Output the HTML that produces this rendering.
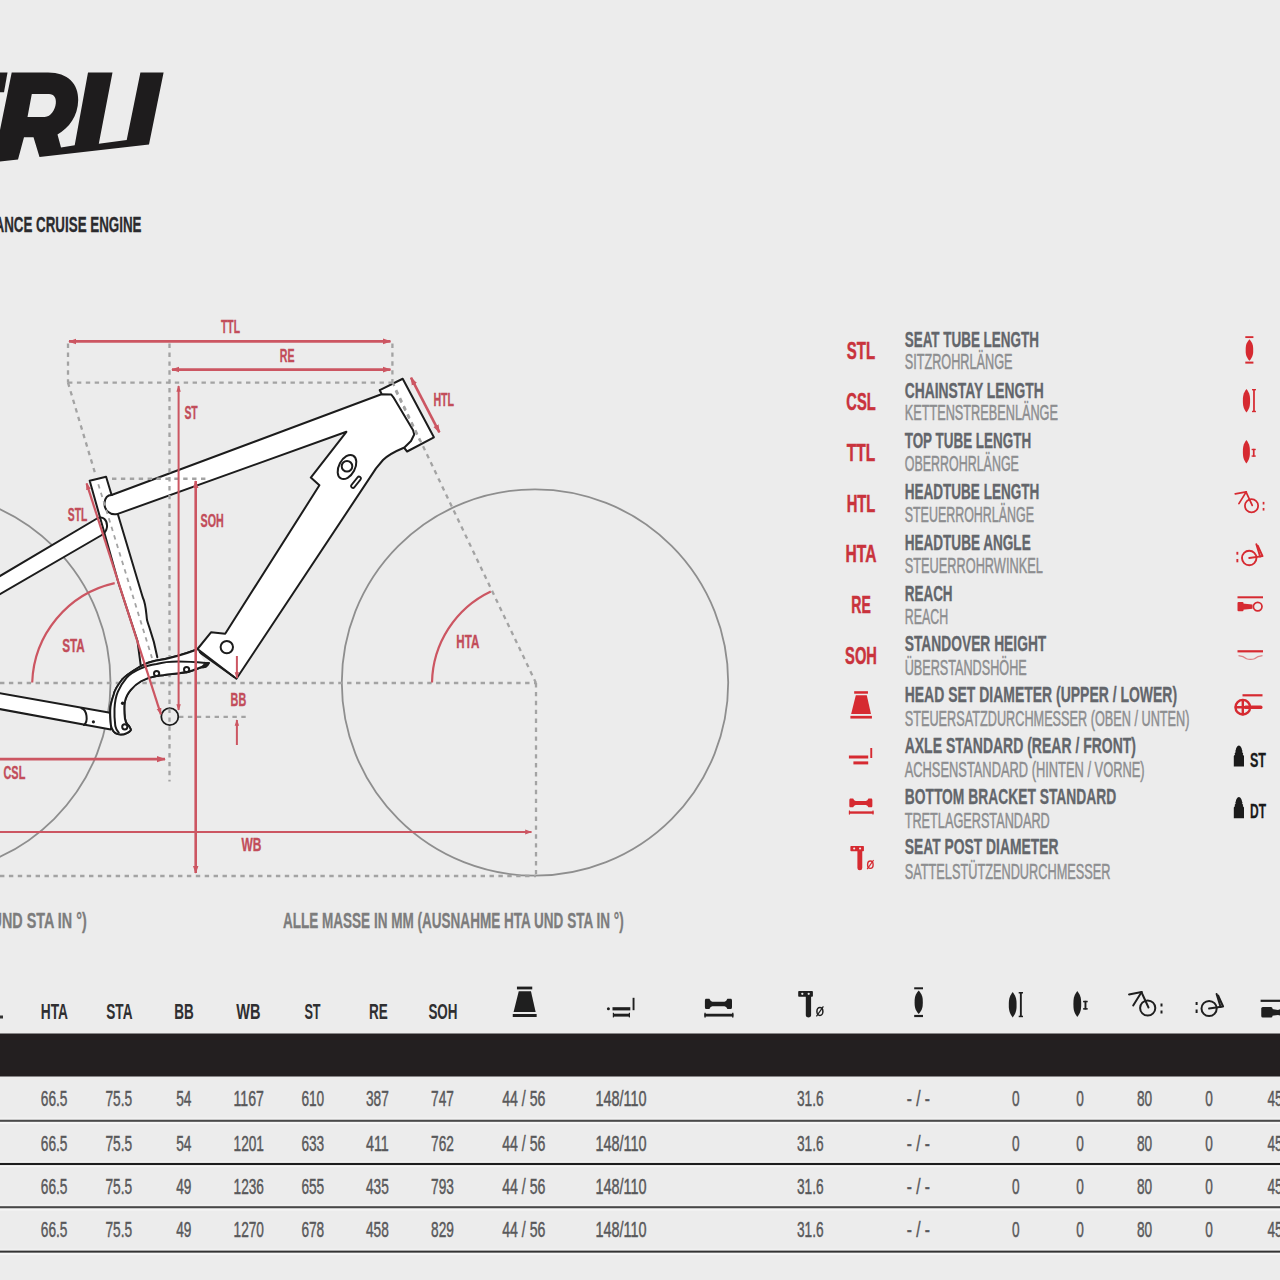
<!DOCTYPE html>
<html><head><meta charset="utf-8"><title>Geometry</title>
<style>
html,body{margin:0;padding:0;background:#ececec;}
body{width:1280px;height:1280px;overflow:hidden;}
svg{display:block;font-family:"Liberation Sans",sans-serif;}
</style></head><body>
<svg width="1280" height="1280" viewBox="0 0 1280 1280">
<rect width="1280" height="1280" fill="#ececec"/>
<path fill="#1e1c1d" d="M0,72.5 L7.5,72.5 L4,92.3 L0,92.3 Z"/><path fill="#1e1c1d" fill-rule="evenodd" d="M11.7,72.5 L48.1,72.5 C68,72.5 78.5,84 78.2,100 C78,116 69,128 57.5,134.5 L61,147.6 L74.7,145.2 L88,72.5 L112.5,72.5 L98.8,143.8 L126.7,139.9 L140.4,72.5 L163.6,72.5 L149,144.6 L39.5,157 L33.5,137.3 L24,137.3 L18,159.4 L0,161.4 L0,130 Z M31.8,94 L49,94 C54,94 56.5,98 55.8,103.5 C55,110 51,116.5 44.7,117.1 L27.5,117.1 Z"/><text x="-5.5" y="232" font-size="22.3" font-weight="bold" fill="#2b2b2e" stroke="#2b2b2e" stroke-width="0.3" text-anchor="start" textLength="147" lengthAdjust="spacingAndGlyphs">ANCE CRUISE ENGINE</text><circle cx="535" cy="682.5" r="193.2" fill="none" stroke="#8e8e8e" stroke-width="1.8"/><circle cx="-81.5" cy="683" r="192" fill="none" stroke="#8e8e8e" stroke-width="1.8"/><path fill="#ffffff" stroke="none" d="M-5,692.4 L108.7,712.6 C112,713.5 113,726 110.7,729.4 L-5,708.2 Z"/><path fill="#ffffff" stroke="none" d="M-5,579 L97,518.5 C103,515.5 107.5,520 107,527 C106.5,531 104.5,533.5 101,535.5 L-5,597 Z"/><path fill="#ffffff" stroke="none" d="M111.6,495 L381.4,394.3 L391.25,394.5 L393.4,397.3 L413.1,430.2 L414.2,434.5 L411,441 L404.4,447.5 C396,451 389,454 383,460 L376,468.4 L236.4,678.75 L197.5,649 L211,632.3 L225.2,633.75 L319.4,485.3 L310.8,477.6 L346.4,431.8 L117.8,513.9 C110,516 104,510 104.5,503 C105,498 107,495 111.6,495 Z"/><path fill="#ffffff" stroke="none" d="M89.7,480.7 L106.1,476.8 L111.6,495 L117.8,514 L142.7,597.2 C146,604 146,612 147,620 C149,628 153,634 157.3,657.3 L141,667.5 L137.5,641 L118.5,583 Z"/><path fill="#ffffff" stroke="none" d="M379.8,390.2 L402.7,378.75 L433.9,437.3 L407.1,451.5 Z"/><path fill="none" stroke="#1c1c1c" stroke-width="2" stroke-linejoin="round" stroke-linecap="round" d="M-5,692.4 L108.7,712.6 C112,713.5 113,726 110.7,729.4 L-5,708.2"/><path fill="none" stroke="#1c1c1c" stroke-width="2" stroke-linejoin="round" stroke-linecap="round" d="M81.5,708.2 C87,710 88.5,721 84,725"/><circle cx="93.4" cy="721.8" r="1.6" fill="#1c1c1c"/><path fill="none" stroke="#1c1c1c" stroke-width="2" stroke-linejoin="round" stroke-linecap="round" d="M-5,579 L97,518.5 C103,515.5 107.5,520 107,527 C106.5,531 104.5,533.5 101,535.5 L-5,597"/><path fill="none" stroke="#1c1c1c" stroke-width="2" stroke-linejoin="round" stroke-linecap="round" d="M111.6,495 L381.4,394.3 L391.25,394.5 L393.4,397.3 L413.1,430.2 L414.2,434.5 L411,441 L404.4,447.5 C396,451 389,454 383,460 L376,468.4 L236.4,678.75 L197.5,649"/><path fill="none" stroke="#1c1c1c" stroke-width="2" stroke-linejoin="round" stroke-linecap="round" d="M117.8,513.9 L346.4,431.8 L310.8,477.6 L319.4,485.3 L225.2,633.75 L211,632.3 L197.5,649"/><path fill="none" stroke="#1c1c1c" stroke-width="2" stroke-linejoin="round" stroke-linecap="round" d="M199,652 L234,677"/><path fill="none" stroke="#1c1c1c" stroke-width="2" stroke-linejoin="round" stroke-linecap="round" d="M111.6,495 C107,495 105,498 104.5,503 C104,510 110,516 117.8,513.9"/><path fill="none" stroke="#1c1c1c" stroke-width="2" stroke-linejoin="round" stroke-linecap="round" d="M141,667.5 L137.5,641 L118.5,583 L89.7,480.7 L106.1,476.8 L111.6,495"/><path fill="none" stroke="#1c1c1c" stroke-width="2" stroke-linejoin="round" stroke-linecap="round" d="M117.8,514 L142.7,597.2 C146,604 146,612 147,620 C149,628 153,634 157.3,657.3"/><path fill="#ffffff" stroke="none" d="M197,649.5 C185,654 170,658.5 156.6,660.6 C148,662 143,665 138.5,667.5 C131,672 126,675 122.2,679.5 C117,686 114.5,690 113.6,695 C111.5,701 110.2,705 110.2,710.5 C110,716 110.5,720 111,726 C112,730 114,733 117.9,734.1 C121,735 125,734 127.3,732.8 C130,731.5 131,730.5 130.8,729.4 L129,726 C126.5,724 124.8,722 124.5,713.9 C124.2,708 124,705 124.8,701.9 C126,696 128,693 130.8,689.8 C134,686 137,683.5 141,681.25 C146,678.5 150,677 156.6,676.1 C170,674 185,673 191,671 C197,669 203,666.5 206.4,665 Z"/><path fill="none" stroke="#1c1c1c" stroke-width="2" stroke-linejoin="round" stroke-linecap="round" d="M197,649.5 C185,654 170,658.5 156.6,660.6 C148,662 143,665 138.5,667.5 C131,672 126,675 122.2,679.5 C117,686 114.5,690 113.6,695 C111.5,701 110.2,705 110.2,710.5 C110,716 110.5,720 111,726 C112,730 114,733 117.9,734.1 C121,735 125,734 127.3,732.8 C130,731.5 131,730.5 130.8,729.4 L129,726"/><path fill="none" stroke="#1c1c1c" stroke-width="2" stroke-linejoin="round" stroke-linecap="round" d="M205.5,663 C195,662 185,661.5 178,661.5 C168,661.5 162,662.5 156.6,664 C150,665 145,666.5 141,668.4 C135,671 130,674 126.5,677.8 C122,683 120,687 117.9,691.6 C115.5,697 114.8,703 114.5,708.8 C114.2,715 114.6,720 115.3,726 C116,729 117,731 118.8,732.8"/><path fill="none" stroke="#1c1c1c" stroke-width="2" stroke-linejoin="round" stroke-linecap="round" d="M129,726 C126.5,724 124.8,722 124.5,713.9 C124.2,708 124,705 124.8,701.9 C126,696 128,693 130.8,689.8 C134,686 137,683.5 141,681.25 C146,678.5 150,677 156.6,676.1 C170,674 185,673 191,671 C197,669 203,666.5 206.4,665"/><circle cx="156.6" cy="673.5" r="2.6" fill="none" stroke="#1c1c1c" stroke-width="2" stroke-linejoin="round" stroke-linecap="round"/><circle cx="186.6" cy="669.6" r="2.6" fill="none" stroke="#1c1c1c" stroke-width="2" stroke-linejoin="round" stroke-linecap="round"/><circle cx="124.8" cy="726.8" r="2.6" fill="none" stroke="#1c1c1c" stroke-width="2" stroke-linejoin="round" stroke-linecap="round"/><circle cx="122.6" cy="703.2" r="1.7" fill="#1c1c1c"/><path d="M202,667.5 C204,664 207,662.5 209,663 C208,666 205,668 202,667.5 Z" fill="#1c1c1c" stroke="#1c1c1c" stroke-width="1.5"/><path fill="none" stroke="#1c1c1c" stroke-width="2" stroke-linejoin="round" stroke-linecap="round" d="M379.8,390.2 L402.7,378.75 L433.9,437.3 L407.1,451.5 L404.4,448.2"/><path fill="none" stroke="#1c1c1c" stroke-width="2" stroke-linejoin="round" stroke-linecap="round" d="M379.8,390.2 L381.4,393.5"/><line x1="395.6" y1="390.8" x2="420" y2="441" stroke="#a3a3a3" stroke-width="2" stroke-dasharray="4.4 4.5"/><line x1="98.3" y1="484.2" x2="152" y2="658" stroke="#a3a3a3" stroke-width="1.8" stroke-dasharray="4.4 4.5"/><circle cx="226.8" cy="647.1" r="6.2" fill="none" stroke="#1c1c1c" stroke-width="2" stroke-linejoin="round" stroke-linecap="round"/><circle cx="169.8" cy="716.7" r="8.5" fill="none" stroke="#1c1c1c" stroke-width="1.8"/><ellipse cx="347" cy="467" rx="8" ry="13" transform="rotate(28 347 467)" fill="none" stroke="#1c1c1c" stroke-width="2" stroke-linejoin="round" stroke-linecap="round"/><circle cx="347" cy="466.3" r="5.3" fill="none" stroke="#1c1c1c" stroke-width="2" stroke-linejoin="round" stroke-linecap="round"/><line x1="359" y1="478.5" x2="353" y2="486" stroke="#1c1c1c" stroke-width="5.5" stroke-linecap="round"/><line x1="359" y1="478.5" x2="353" y2="486" stroke="#fff" stroke-width="2" stroke-linecap="round"/><line x1="68" y1="382.7" x2="392.4" y2="382.7" stroke="#a3a3a3" stroke-width="2.3" stroke-dasharray="4.4 4.5" stroke-dashoffset="0"/><line x1="68" y1="343.6" x2="68" y2="382.7" stroke="#a3a3a3" stroke-width="2.3" stroke-dasharray="4.4 4.5" stroke-dashoffset="0"/><line x1="169.5" y1="343.6" x2="169.5" y2="781.6" stroke="#a3a3a3" stroke-width="2.3" stroke-dasharray="4.4 4.5" stroke-dashoffset="0"/><line x1="392.4" y1="343.5" x2="392.4" y2="382" stroke="#a3a3a3" stroke-width="2.3" stroke-dasharray="4.4 4.5" stroke-dashoffset="0"/><line x1="68" y1="382.7" x2="95.3" y2="474" stroke="#a3a3a3" stroke-width="2.3" stroke-dasharray="4.4 4.5" stroke-dashoffset="0"/><line x1="112" y1="478.75" x2="206" y2="478.75" stroke="#a3a3a3" stroke-width="2.3" stroke-dasharray="4.4 4.5" stroke-dashoffset="0"/><line x1="0" y1="683" x2="536" y2="683" stroke="#a3a3a3" stroke-width="2.3" stroke-dasharray="4.4 4.5" stroke-dashoffset="0"/><line x1="536" y1="683" x2="536" y2="876" stroke="#a3a3a3" stroke-width="2.3" stroke-dasharray="4.4 4.5" stroke-dashoffset="0"/><line x1="0" y1="876" x2="536" y2="876" stroke="#a3a3a3" stroke-width="2.3" stroke-dasharray="4.4 4.5" stroke-dashoffset="0"/><line x1="392.4" y1="382" x2="536" y2="683" stroke="#a3a3a3" stroke-width="2.3" stroke-dasharray="4.4 4.5" stroke-dashoffset="0"/><line x1="179" y1="716.8" x2="246" y2="716.8" stroke="#a3a3a3" stroke-width="2.3" stroke-dasharray="4.4 4.5" stroke-dashoffset="0"/><path fill="#ffffff" stroke="none" d="M197,649.5 C185,654 170,658.5 156.6,660.6 C148,662 143,665 138.5,667.5 C131,672 126,675 122.2,679.5 C117,686 114.5,690 113.6,695 C111.5,701 110.2,705 110.2,710.5 C110,716 110.5,720 111,726 C112,730 114,733 117.9,734.1 C121,735 125,734 127.3,732.8 C130,731.5 131,730.5 130.8,729.4 L129,726 C126.5,724 124.8,722 124.5,713.9 C124.2,708 124,705 124.8,701.9 C126,696 128,693 130.8,689.8 C134,686 137,683.5 141,681.25 C146,678.5 150,677 156.6,676.1 C170,674 185,673 191,671 C197,669 203,666.5 206.4,665 Z"/><path fill="none" stroke="#1c1c1c" stroke-width="2" stroke-linejoin="round" stroke-linecap="round" d="M197,649.5 C185,654 170,658.5 156.6,660.6 C148,662 143,665 138.5,667.5 C131,672 126,675 122.2,679.5 C117,686 114.5,690 113.6,695 C111.5,701 110.2,705 110.2,710.5 C110,716 110.5,720 111,726 C112,730 114,733 117.9,734.1 C121,735 125,734 127.3,732.8 C130,731.5 131,730.5 130.8,729.4 L129,726"/><path fill="none" stroke="#1c1c1c" stroke-width="2" stroke-linejoin="round" stroke-linecap="round" d="M205.5,663 C195,662 185,661.5 178,661.5 C168,661.5 162,662.5 156.6,664 C150,665 145,666.5 141,668.4 C135,671 130,674 126.5,677.8 C122,683 120,687 117.9,691.6 C115.5,697 114.8,703 114.5,708.8 C114.2,715 114.6,720 115.3,726 C116,729 117,731 118.8,732.8"/><path fill="none" stroke="#1c1c1c" stroke-width="2" stroke-linejoin="round" stroke-linecap="round" d="M129,726 C126.5,724 124.8,722 124.5,713.9 C124.2,708 124,705 124.8,701.9 C126,696 128,693 130.8,689.8 C134,686 137,683.5 141,681.25 C146,678.5 150,677 156.6,676.1 C170,674 185,673 191,671 C197,669 203,666.5 206.4,665"/><circle cx="156.6" cy="673.5" r="2.6" fill="none" stroke="#1c1c1c" stroke-width="2" stroke-linejoin="round" stroke-linecap="round"/><circle cx="186.6" cy="669.6" r="2.6" fill="none" stroke="#1c1c1c" stroke-width="2" stroke-linejoin="round" stroke-linecap="round"/><circle cx="124.8" cy="726.8" r="2.6" fill="none" stroke="#1c1c1c" stroke-width="2" stroke-linejoin="round" stroke-linecap="round"/><circle cx="122.6" cy="703.2" r="1.7" fill="#1c1c1c"/><path d="M202,667.5 C204,664 207,662.5 209,663 C208,666 205,668 202,667.5 Z" fill="#1c1c1c" stroke="#1c1c1c" stroke-width="1.5"/><defs><marker id="ah" viewBox="0 0 10 10" refX="9" refY="5" markerWidth="3.2" markerHeight="3.2" orient="auto-start-reverse" markerUnits="strokeWidth"><path d="M0,1.5 L10,5 L0,8.5 Z" fill="#cc5662"/></marker></defs><line x1="69" y1="341.4" x2="390.5" y2="341.4" stroke="#cc5662" stroke-width="2.6" marker-start="url(#ah)" marker-end="url(#ah)"/><line x1="172" y1="369.6" x2="390.5" y2="369.6" stroke="#cc5662" stroke-width="2.6" marker-start="url(#ah)" marker-end="url(#ah)"/><line x1="178.6" y1="386" x2="178.6" y2="710" stroke="#cc5662" stroke-width="2.0" marker-start="url(#ah)" marker-end="url(#ah)"/><line x1="195.7" y1="481" x2="195.7" y2="873" stroke="#cc5662" stroke-width="2.6" marker-start="url(#ah)" marker-end="url(#ah)"/><line x1="0" y1="759.2" x2="165" y2="759.2" stroke="#cc5662" stroke-width="2.8" marker-end="url(#ah)"/><line x1="0" y1="832" x2="531.5" y2="832" stroke="#cc5662" stroke-width="2.2" marker-end="url(#ah)"/><line x1="411" y1="377.7" x2="439.4" y2="432.3" stroke="#cc5662" stroke-width="2.6" marker-start="url(#ah)" marker-end="url(#ah)"/><line x1="236.9" y1="656" x2="236.9" y2="678" stroke="#cc5662" stroke-width="2.0" marker-end="url(#ah)"/><line x1="236.9" y1="745" x2="236.9" y2="720" stroke="#cc5662" stroke-width="2.0" marker-end="url(#ah)"/><path d="M32.2,682.5 A105.6,105.6 0 0 1 114.7,583.1" fill="none" stroke="#cc5662" stroke-width="2.2"/><path d="M432,682.5 A103,103 0 0 1 490.8,591.4" fill="none" stroke="#cc5662" stroke-width="2.2"/><line x1="86.6" y1="483.4" x2="160.9" y2="714.4" stroke="#cc5662" stroke-width="2.2" marker-start="url(#ah)" marker-end="url(#ah)"/><text x="221" y="333.4" font-size="17.6" font-weight="bold" fill="#c24d5a" stroke="#c24d5a" stroke-width="0.35" text-anchor="start" textLength="19" lengthAdjust="spacingAndGlyphs">TTL</text><text x="279.8" y="362.4" font-size="17.6" font-weight="bold" fill="#c24d5a" stroke="#c24d5a" stroke-width="0.35" text-anchor="start" textLength="14.7" lengthAdjust="spacingAndGlyphs">RE</text><text x="184.4" y="419.4" font-size="17.6" font-weight="bold" fill="#c24d5a" stroke="#c24d5a" stroke-width="0.35" text-anchor="start" textLength="13.3" lengthAdjust="spacingAndGlyphs">ST</text><text x="433.4" y="405.5" font-size="17.6" font-weight="bold" fill="#c24d5a" stroke="#c24d5a" stroke-width="0.35" text-anchor="start" textLength="20.7" lengthAdjust="spacingAndGlyphs">HTL</text><text x="67.8" y="521" font-size="17.6" font-weight="bold" fill="#c24d5a" stroke="#c24d5a" stroke-width="0.35" text-anchor="start" textLength="19.5" lengthAdjust="spacingAndGlyphs">STL</text><text x="200.5" y="526.9" font-size="17.6" font-weight="bold" fill="#c24d5a" stroke="#c24d5a" stroke-width="0.35" text-anchor="start" textLength="23.25" lengthAdjust="spacingAndGlyphs">SOH</text><text x="62.2" y="651.6" font-size="17.6" font-weight="bold" fill="#c24d5a" stroke="#c24d5a" stroke-width="0.35" text-anchor="start" textLength="22.5" lengthAdjust="spacingAndGlyphs">STA</text><text x="456.3" y="647.8" font-size="17.6" font-weight="bold" fill="#c24d5a" stroke="#c24d5a" stroke-width="0.35" text-anchor="start" textLength="23" lengthAdjust="spacingAndGlyphs">HTA</text><text x="230.6" y="706.25" font-size="17.6" font-weight="bold" fill="#c24d5a" stroke="#c24d5a" stroke-width="0.35" text-anchor="start" textLength="15.65" lengthAdjust="spacingAndGlyphs">BB</text><text x="3.5" y="779.2" font-size="17.6" font-weight="bold" fill="#c24d5a" stroke="#c24d5a" stroke-width="0.35" text-anchor="start" textLength="21.8" lengthAdjust="spacingAndGlyphs">CSL</text><text x="241.4" y="850.7" font-size="17.6" font-weight="bold" fill="#c24d5a" stroke="#c24d5a" stroke-width="0.35" text-anchor="start" textLength="19.9" lengthAdjust="spacingAndGlyphs">WB</text><text x="-8.5" y="928.1" font-size="22" font-weight="bold" fill="#7d7d7d" stroke="#7d7d7d" stroke-width="0.3" text-anchor="start" textLength="95.2" lengthAdjust="spacingAndGlyphs">UND STA IN °)</text><text x="282.9" y="928.1" font-size="22" font-weight="bold" fill="#7d7d7d" stroke="#7d7d7d" stroke-width="0.3" text-anchor="start" textLength="340.8" lengthAdjust="spacingAndGlyphs">ALLE MASSE IN MM (AUSNAHME HTA UND STA IN °)</text><text x="904.7" y="346.9" font-size="21.6" font-weight="bold" fill="#63666b" stroke="#63666b" stroke-width="0.3" text-anchor="start" textLength="134.2" lengthAdjust="spacingAndGlyphs">SEAT TUBE LENGTH</text><text x="904.7" y="368.6" font-size="21.5" font-weight="normal" fill="#8d8e90" stroke="#8d8e90" stroke-width="0.5" text-anchor="start" textLength="107.8" lengthAdjust="spacingAndGlyphs">SITZROHRLÄNGE</text><text x="904.7" y="397.6" font-size="21.6" font-weight="bold" fill="#63666b" stroke="#63666b" stroke-width="0.3" text-anchor="start" textLength="139.1" lengthAdjust="spacingAndGlyphs">CHAINSTAY LENGTH</text><text x="904.7" y="419.6" font-size="21.5" font-weight="normal" fill="#8d8e90" stroke="#8d8e90" stroke-width="0.5" text-anchor="start" textLength="153.3" lengthAdjust="spacingAndGlyphs">KETTENSTREBENLÄNGE</text><text x="904.7" y="448.4" font-size="21.6" font-weight="bold" fill="#63666b" stroke="#63666b" stroke-width="0.3" text-anchor="start" textLength="126.4" lengthAdjust="spacingAndGlyphs">TOP TUBE LENGTH</text><text x="904.7" y="470.6" font-size="21.5" font-weight="normal" fill="#8d8e90" stroke="#8d8e90" stroke-width="0.5" text-anchor="start" textLength="114.2" lengthAdjust="spacingAndGlyphs">OBERROHRLÄNGE</text><text x="904.7" y="499.1" font-size="21.6" font-weight="bold" fill="#63666b" stroke="#63666b" stroke-width="0.3" text-anchor="start" textLength="134.6" lengthAdjust="spacingAndGlyphs">HEADTUBE LENGTH</text><text x="904.7" y="521.6" font-size="21.5" font-weight="normal" fill="#8d8e90" stroke="#8d8e90" stroke-width="0.5" text-anchor="start" textLength="129.3" lengthAdjust="spacingAndGlyphs">STEUERROHRLÄNGE</text><text x="904.7" y="549.8" font-size="21.6" font-weight="bold" fill="#63666b" stroke="#63666b" stroke-width="0.3" text-anchor="start" textLength="126" lengthAdjust="spacingAndGlyphs">HEADTUBE ANGLE</text><text x="904.7" y="572.6" font-size="21.5" font-weight="normal" fill="#8d8e90" stroke="#8d8e90" stroke-width="0.5" text-anchor="start" textLength="138.1" lengthAdjust="spacingAndGlyphs">STEUERROHRWINKEL</text><text x="904.7" y="600.5" font-size="21.6" font-weight="bold" fill="#63666b" stroke="#63666b" stroke-width="0.3" text-anchor="start" textLength="47.9" lengthAdjust="spacingAndGlyphs">REACH</text><text x="904.7" y="623.6" font-size="21.5" font-weight="normal" fill="#8d8e90" stroke="#8d8e90" stroke-width="0.5" text-anchor="start" textLength="43.4" lengthAdjust="spacingAndGlyphs">REACH</text><text x="904.7" y="651.3" font-size="21.6" font-weight="bold" fill="#63666b" stroke="#63666b" stroke-width="0.3" text-anchor="start" textLength="141.6" lengthAdjust="spacingAndGlyphs">STANDOVER HEIGHT</text><text x="904.7" y="674.5" font-size="21.5" font-weight="normal" fill="#8d8e90" stroke="#8d8e90" stroke-width="0.5" text-anchor="start" textLength="122" lengthAdjust="spacingAndGlyphs">ÜBERSTANDSHÖHE</text><text x="904.7" y="702.0" font-size="21.6" font-weight="bold" fill="#63666b" stroke="#63666b" stroke-width="0.3" text-anchor="start" textLength="272.4" lengthAdjust="spacingAndGlyphs">HEAD SET DIAMETER (UPPER / LOWER)</text><text x="904.7" y="725.5" font-size="21.5" font-weight="normal" fill="#8d8e90" stroke="#8d8e90" stroke-width="0.5" text-anchor="start" textLength="284.8" lengthAdjust="spacingAndGlyphs">STEUERSATZDURCHMESSER (OBEN / UNTEN)</text><text x="904.7" y="752.7" font-size="21.6" font-weight="bold" fill="#63666b" stroke="#63666b" stroke-width="0.3" text-anchor="start" textLength="231.3" lengthAdjust="spacingAndGlyphs">AXLE STANDARD (REAR / FRONT)</text><text x="904.7" y="776.5" font-size="21.5" font-weight="normal" fill="#8d8e90" stroke="#8d8e90" stroke-width="0.5" text-anchor="start" textLength="239.9" lengthAdjust="spacingAndGlyphs">ACHSENSTANDARD (HINTEN / VORNE)</text><text x="904.7" y="803.5" font-size="21.6" font-weight="bold" fill="#63666b" stroke="#63666b" stroke-width="0.3" text-anchor="start" textLength="211.6" lengthAdjust="spacingAndGlyphs">BOTTOM BRACKET STANDARD</text><text x="904.7" y="827.5" font-size="21.5" font-weight="normal" fill="#8d8e90" stroke="#8d8e90" stroke-width="0.5" text-anchor="start" textLength="145.1" lengthAdjust="spacingAndGlyphs">TRETLAGERSTANDARD</text><text x="904.7" y="854.2" font-size="21.6" font-weight="bold" fill="#63666b" stroke="#63666b" stroke-width="0.3" text-anchor="start" textLength="153.8" lengthAdjust="spacingAndGlyphs">SEAT POST DIAMETER</text><text x="904.7" y="878.5" font-size="21.5" font-weight="normal" fill="#8d8e90" stroke="#8d8e90" stroke-width="0.5" text-anchor="start" textLength="205.8" lengthAdjust="spacingAndGlyphs">SATTELSTÜTZENDURCHMESSER</text><text x="861" y="359.0" font-size="23" font-weight="bold" fill="#c9333c" stroke="#c9333c" stroke-width="0.5" text-anchor="middle" textLength="28.3" lengthAdjust="spacingAndGlyphs">STL</text><text x="861" y="409.9" font-size="23" font-weight="bold" fill="#c9333c" stroke="#c9333c" stroke-width="0.5" text-anchor="middle" textLength="29.3" lengthAdjust="spacingAndGlyphs">CSL</text><text x="861" y="460.7" font-size="23" font-weight="bold" fill="#c9333c" stroke="#c9333c" stroke-width="0.5" text-anchor="middle" textLength="28.4" lengthAdjust="spacingAndGlyphs">TTL</text><text x="861" y="511.6" font-size="23" font-weight="bold" fill="#c9333c" stroke="#c9333c" stroke-width="0.5" text-anchor="middle" textLength="28.7" lengthAdjust="spacingAndGlyphs">HTL</text><text x="861" y="562.4" font-size="23" font-weight="bold" fill="#c9333c" stroke="#c9333c" stroke-width="0.5" text-anchor="middle" textLength="30.9" lengthAdjust="spacingAndGlyphs">HTA</text><text x="861" y="613.2" font-size="23" font-weight="bold" fill="#c9333c" stroke="#c9333c" stroke-width="0.5" text-anchor="middle" textLength="19.5" lengthAdjust="spacingAndGlyphs">RE</text><text x="861" y="664.1" font-size="23" font-weight="bold" fill="#c9333c" stroke="#c9333c" stroke-width="0.5" text-anchor="middle" textLength="31.8" lengthAdjust="spacingAndGlyphs">SOH</text><rect x="0" y="1033.5" width="1280" height="43" fill="#231f20"/><rect x="0" y="1119.5" width="1280" height="2.4" fill="#4a4a4a"/><rect x="0" y="1121.9" width="1280" height="2" fill="#f6f6f6"/><rect x="0" y="1117.7" width="1280" height="1.8" fill="#f1f1f1"/><rect x="0" y="1162.8" width="1280" height="2.4" fill="#1e1e1e"/><rect x="0" y="1165.2" width="1280" height="2" fill="#f6f6f6"/><rect x="0" y="1161" width="1280" height="1.8" fill="#f1f1f1"/><rect x="0" y="1206.1" width="1280" height="2.4" fill="#474747"/><rect x="0" y="1208.5" width="1280" height="2" fill="#f6f6f6"/><rect x="0" y="1204.3" width="1280" height="1.8" fill="#f1f1f1"/><rect x="0" y="1250.3999999999999" width="1280" height="2.4" fill="#333333"/><rect x="0" y="1252.8" width="1280" height="2" fill="#f6f6f6"/><rect x="0" y="1248.6" width="1280" height="1.8" fill="#f1f1f1"/><rect x="0" y="1015.5" width="3" height="3" fill="#333"/><text x="40.75" y="1019" font-size="22" font-weight="bold" fill="#2f2f31" text-anchor="start" textLength="27.25" lengthAdjust="spacingAndGlyphs">HTA</text><text x="106.25" y="1019" font-size="22" font-weight="bold" fill="#2f2f31" text-anchor="start" textLength="26.25" lengthAdjust="spacingAndGlyphs">STA</text><text x="174.25" y="1019" font-size="22" font-weight="bold" fill="#2f2f31" text-anchor="start" textLength="19.5" lengthAdjust="spacingAndGlyphs">BB</text><text x="236.25" y="1019" font-size="22" font-weight="bold" fill="#2f2f31" text-anchor="start" textLength="24.25" lengthAdjust="spacingAndGlyphs">WB</text><text x="304.4" y="1019" font-size="22" font-weight="bold" fill="#2f2f31" text-anchor="start" textLength="16.2" lengthAdjust="spacingAndGlyphs">ST</text><text x="369" y="1019" font-size="22" font-weight="bold" fill="#2f2f31" text-anchor="start" textLength="18.8" lengthAdjust="spacingAndGlyphs">RE</text><text x="428.4" y="1019" font-size="22" font-weight="bold" fill="#2f2f31" text-anchor="start" textLength="29.1" lengthAdjust="spacingAndGlyphs">SOH</text><text x="54.1" y="1106.3" font-size="22" font-weight="normal" fill="#58585a" stroke="#58585a" stroke-width="0.45" text-anchor="middle" textLength="26.7" lengthAdjust="spacingAndGlyphs">66.5</text><text x="118.75" y="1106.3" font-size="22" font-weight="normal" fill="#58585a" stroke="#58585a" stroke-width="0.45" text-anchor="middle" textLength="26.7" lengthAdjust="spacingAndGlyphs">75.5</text><text x="183.75" y="1106.3" font-size="22" font-weight="normal" fill="#58585a" stroke="#58585a" stroke-width="0.45" text-anchor="middle" textLength="15.2" lengthAdjust="spacingAndGlyphs">54</text><text x="248.75" y="1106.3" font-size="22" font-weight="normal" fill="#58585a" stroke="#58585a" stroke-width="0.45" text-anchor="middle" textLength="30.4" lengthAdjust="spacingAndGlyphs">1167</text><text x="312.8" y="1106.3" font-size="22" font-weight="normal" fill="#58585a" stroke="#58585a" stroke-width="0.45" text-anchor="middle" textLength="22.8" lengthAdjust="spacingAndGlyphs">610</text><text x="377.4" y="1106.3" font-size="22" font-weight="normal" fill="#58585a" stroke="#58585a" stroke-width="0.45" text-anchor="middle" textLength="22.8" lengthAdjust="spacingAndGlyphs">387</text><text x="442.5" y="1106.3" font-size="22" font-weight="normal" fill="#58585a" stroke="#58585a" stroke-width="0.45" text-anchor="middle" textLength="22.8" lengthAdjust="spacingAndGlyphs">747</text><text x="523.75" y="1106.3" font-size="22" font-weight="normal" fill="#58585a" stroke="#58585a" stroke-width="0.45" text-anchor="middle" textLength="43.2" lengthAdjust="spacingAndGlyphs">44 / 56</text><text x="621" y="1106.3" font-size="22" font-weight="normal" fill="#58585a" stroke="#58585a" stroke-width="0.45" text-anchor="middle" textLength="51.2" lengthAdjust="spacingAndGlyphs">148/110</text><text x="810.3" y="1106.3" font-size="22" font-weight="normal" fill="#58585a" stroke="#58585a" stroke-width="0.45" text-anchor="middle" textLength="26.7" lengthAdjust="spacingAndGlyphs">31.6</text><text x="918.4" y="1106.3" font-size="22" font-weight="normal" fill="#58585a" stroke="#58585a" stroke-width="0.45" text-anchor="middle" textLength="23.2" lengthAdjust="spacingAndGlyphs">- / -</text><text x="1015.7" y="1106.3" font-size="22" font-weight="normal" fill="#58585a" stroke="#58585a" stroke-width="0.45" text-anchor="middle" textLength="7.6" lengthAdjust="spacingAndGlyphs">0</text><text x="1080.15" y="1106.3" font-size="22" font-weight="normal" fill="#58585a" stroke="#58585a" stroke-width="0.45" text-anchor="middle" textLength="7.6" lengthAdjust="spacingAndGlyphs">0</text><text x="1144.6" y="1106.3" font-size="22" font-weight="normal" fill="#58585a" stroke="#58585a" stroke-width="0.45" text-anchor="middle" textLength="15.2" lengthAdjust="spacingAndGlyphs">80</text><text x="1209.1" y="1106.3" font-size="22" font-weight="normal" fill="#58585a" stroke="#58585a" stroke-width="0.45" text-anchor="middle" textLength="7.6" lengthAdjust="spacingAndGlyphs">0</text><text x="1275" y="1106.3" font-size="22" font-weight="normal" fill="#58585a" stroke="#58585a" stroke-width="0.45" text-anchor="middle" textLength="15.2" lengthAdjust="spacingAndGlyphs">45</text><text x="54.1" y="1150.5" font-size="22" font-weight="normal" fill="#58585a" stroke="#58585a" stroke-width="0.45" text-anchor="middle" textLength="26.7" lengthAdjust="spacingAndGlyphs">66.5</text><text x="118.75" y="1150.5" font-size="22" font-weight="normal" fill="#58585a" stroke="#58585a" stroke-width="0.45" text-anchor="middle" textLength="26.7" lengthAdjust="spacingAndGlyphs">75.5</text><text x="183.75" y="1150.5" font-size="22" font-weight="normal" fill="#58585a" stroke="#58585a" stroke-width="0.45" text-anchor="middle" textLength="15.2" lengthAdjust="spacingAndGlyphs">54</text><text x="248.75" y="1150.5" font-size="22" font-weight="normal" fill="#58585a" stroke="#58585a" stroke-width="0.45" text-anchor="middle" textLength="30.4" lengthAdjust="spacingAndGlyphs">1201</text><text x="312.8" y="1150.5" font-size="22" font-weight="normal" fill="#58585a" stroke="#58585a" stroke-width="0.45" text-anchor="middle" textLength="22.8" lengthAdjust="spacingAndGlyphs">633</text><text x="377.4" y="1150.5" font-size="22" font-weight="normal" fill="#58585a" stroke="#58585a" stroke-width="0.45" text-anchor="middle" textLength="22.8" lengthAdjust="spacingAndGlyphs">411</text><text x="442.5" y="1150.5" font-size="22" font-weight="normal" fill="#58585a" stroke="#58585a" stroke-width="0.45" text-anchor="middle" textLength="22.8" lengthAdjust="spacingAndGlyphs">762</text><text x="523.75" y="1150.5" font-size="22" font-weight="normal" fill="#58585a" stroke="#58585a" stroke-width="0.45" text-anchor="middle" textLength="43.2" lengthAdjust="spacingAndGlyphs">44 / 56</text><text x="621" y="1150.5" font-size="22" font-weight="normal" fill="#58585a" stroke="#58585a" stroke-width="0.45" text-anchor="middle" textLength="51.2" lengthAdjust="spacingAndGlyphs">148/110</text><text x="810.3" y="1150.5" font-size="22" font-weight="normal" fill="#58585a" stroke="#58585a" stroke-width="0.45" text-anchor="middle" textLength="26.7" lengthAdjust="spacingAndGlyphs">31.6</text><text x="918.4" y="1150.5" font-size="22" font-weight="normal" fill="#58585a" stroke="#58585a" stroke-width="0.45" text-anchor="middle" textLength="23.2" lengthAdjust="spacingAndGlyphs">- / -</text><text x="1015.7" y="1150.5" font-size="22" font-weight="normal" fill="#58585a" stroke="#58585a" stroke-width="0.45" text-anchor="middle" textLength="7.6" lengthAdjust="spacingAndGlyphs">0</text><text x="1080.15" y="1150.5" font-size="22" font-weight="normal" fill="#58585a" stroke="#58585a" stroke-width="0.45" text-anchor="middle" textLength="7.6" lengthAdjust="spacingAndGlyphs">0</text><text x="1144.6" y="1150.5" font-size="22" font-weight="normal" fill="#58585a" stroke="#58585a" stroke-width="0.45" text-anchor="middle" textLength="15.2" lengthAdjust="spacingAndGlyphs">80</text><text x="1209.1" y="1150.5" font-size="22" font-weight="normal" fill="#58585a" stroke="#58585a" stroke-width="0.45" text-anchor="middle" textLength="7.6" lengthAdjust="spacingAndGlyphs">0</text><text x="1275" y="1150.5" font-size="22" font-weight="normal" fill="#58585a" stroke="#58585a" stroke-width="0.45" text-anchor="middle" textLength="15.2" lengthAdjust="spacingAndGlyphs">45</text><text x="54.1" y="1193.8" font-size="22" font-weight="normal" fill="#58585a" stroke="#58585a" stroke-width="0.45" text-anchor="middle" textLength="26.7" lengthAdjust="spacingAndGlyphs">66.5</text><text x="118.75" y="1193.8" font-size="22" font-weight="normal" fill="#58585a" stroke="#58585a" stroke-width="0.45" text-anchor="middle" textLength="26.7" lengthAdjust="spacingAndGlyphs">75.5</text><text x="183.75" y="1193.8" font-size="22" font-weight="normal" fill="#58585a" stroke="#58585a" stroke-width="0.45" text-anchor="middle" textLength="15.2" lengthAdjust="spacingAndGlyphs">49</text><text x="248.75" y="1193.8" font-size="22" font-weight="normal" fill="#58585a" stroke="#58585a" stroke-width="0.45" text-anchor="middle" textLength="30.4" lengthAdjust="spacingAndGlyphs">1236</text><text x="312.8" y="1193.8" font-size="22" font-weight="normal" fill="#58585a" stroke="#58585a" stroke-width="0.45" text-anchor="middle" textLength="22.8" lengthAdjust="spacingAndGlyphs">655</text><text x="377.4" y="1193.8" font-size="22" font-weight="normal" fill="#58585a" stroke="#58585a" stroke-width="0.45" text-anchor="middle" textLength="22.8" lengthAdjust="spacingAndGlyphs">435</text><text x="442.5" y="1193.8" font-size="22" font-weight="normal" fill="#58585a" stroke="#58585a" stroke-width="0.45" text-anchor="middle" textLength="22.8" lengthAdjust="spacingAndGlyphs">793</text><text x="523.75" y="1193.8" font-size="22" font-weight="normal" fill="#58585a" stroke="#58585a" stroke-width="0.45" text-anchor="middle" textLength="43.2" lengthAdjust="spacingAndGlyphs">44 / 56</text><text x="621" y="1193.8" font-size="22" font-weight="normal" fill="#58585a" stroke="#58585a" stroke-width="0.45" text-anchor="middle" textLength="51.2" lengthAdjust="spacingAndGlyphs">148/110</text><text x="810.3" y="1193.8" font-size="22" font-weight="normal" fill="#58585a" stroke="#58585a" stroke-width="0.45" text-anchor="middle" textLength="26.7" lengthAdjust="spacingAndGlyphs">31.6</text><text x="918.4" y="1193.8" font-size="22" font-weight="normal" fill="#58585a" stroke="#58585a" stroke-width="0.45" text-anchor="middle" textLength="23.2" lengthAdjust="spacingAndGlyphs">- / -</text><text x="1015.7" y="1193.8" font-size="22" font-weight="normal" fill="#58585a" stroke="#58585a" stroke-width="0.45" text-anchor="middle" textLength="7.6" lengthAdjust="spacingAndGlyphs">0</text><text x="1080.15" y="1193.8" font-size="22" font-weight="normal" fill="#58585a" stroke="#58585a" stroke-width="0.45" text-anchor="middle" textLength="7.6" lengthAdjust="spacingAndGlyphs">0</text><text x="1144.6" y="1193.8" font-size="22" font-weight="normal" fill="#58585a" stroke="#58585a" stroke-width="0.45" text-anchor="middle" textLength="15.2" lengthAdjust="spacingAndGlyphs">80</text><text x="1209.1" y="1193.8" font-size="22" font-weight="normal" fill="#58585a" stroke="#58585a" stroke-width="0.45" text-anchor="middle" textLength="7.6" lengthAdjust="spacingAndGlyphs">0</text><text x="1275" y="1193.8" font-size="22" font-weight="normal" fill="#58585a" stroke="#58585a" stroke-width="0.45" text-anchor="middle" textLength="15.2" lengthAdjust="spacingAndGlyphs">45</text><text x="54.1" y="1237" font-size="22" font-weight="normal" fill="#58585a" stroke="#58585a" stroke-width="0.45" text-anchor="middle" textLength="26.7" lengthAdjust="spacingAndGlyphs">66.5</text><text x="118.75" y="1237" font-size="22" font-weight="normal" fill="#58585a" stroke="#58585a" stroke-width="0.45" text-anchor="middle" textLength="26.7" lengthAdjust="spacingAndGlyphs">75.5</text><text x="183.75" y="1237" font-size="22" font-weight="normal" fill="#58585a" stroke="#58585a" stroke-width="0.45" text-anchor="middle" textLength="15.2" lengthAdjust="spacingAndGlyphs">49</text><text x="248.75" y="1237" font-size="22" font-weight="normal" fill="#58585a" stroke="#58585a" stroke-width="0.45" text-anchor="middle" textLength="30.4" lengthAdjust="spacingAndGlyphs">1270</text><text x="312.8" y="1237" font-size="22" font-weight="normal" fill="#58585a" stroke="#58585a" stroke-width="0.45" text-anchor="middle" textLength="22.8" lengthAdjust="spacingAndGlyphs">678</text><text x="377.4" y="1237" font-size="22" font-weight="normal" fill="#58585a" stroke="#58585a" stroke-width="0.45" text-anchor="middle" textLength="22.8" lengthAdjust="spacingAndGlyphs">458</text><text x="442.5" y="1237" font-size="22" font-weight="normal" fill="#58585a" stroke="#58585a" stroke-width="0.45" text-anchor="middle" textLength="22.8" lengthAdjust="spacingAndGlyphs">829</text><text x="523.75" y="1237" font-size="22" font-weight="normal" fill="#58585a" stroke="#58585a" stroke-width="0.45" text-anchor="middle" textLength="43.2" lengthAdjust="spacingAndGlyphs">44 / 56</text><text x="621" y="1237" font-size="22" font-weight="normal" fill="#58585a" stroke="#58585a" stroke-width="0.45" text-anchor="middle" textLength="51.2" lengthAdjust="spacingAndGlyphs">148/110</text><text x="810.3" y="1237" font-size="22" font-weight="normal" fill="#58585a" stroke="#58585a" stroke-width="0.45" text-anchor="middle" textLength="26.7" lengthAdjust="spacingAndGlyphs">31.6</text><text x="918.4" y="1237" font-size="22" font-weight="normal" fill="#58585a" stroke="#58585a" stroke-width="0.45" text-anchor="middle" textLength="23.2" lengthAdjust="spacingAndGlyphs">- / -</text><text x="1015.7" y="1237" font-size="22" font-weight="normal" fill="#58585a" stroke="#58585a" stroke-width="0.45" text-anchor="middle" textLength="7.6" lengthAdjust="spacingAndGlyphs">0</text><text x="1080.15" y="1237" font-size="22" font-weight="normal" fill="#58585a" stroke="#58585a" stroke-width="0.45" text-anchor="middle" textLength="7.6" lengthAdjust="spacingAndGlyphs">0</text><text x="1144.6" y="1237" font-size="22" font-weight="normal" fill="#58585a" stroke="#58585a" stroke-width="0.45" text-anchor="middle" textLength="15.2" lengthAdjust="spacingAndGlyphs">80</text><text x="1209.1" y="1237" font-size="22" font-weight="normal" fill="#58585a" stroke="#58585a" stroke-width="0.45" text-anchor="middle" textLength="7.6" lengthAdjust="spacingAndGlyphs">0</text><text x="1275" y="1237" font-size="22" font-weight="normal" fill="#58585a" stroke="#58585a" stroke-width="0.45" text-anchor="middle" textLength="15.2" lengthAdjust="spacingAndGlyphs">45</text><g transform="translate(1245.3,336.2) scale(0.92)" fill="#d62a31" stroke="#d62a31"><rect x="0" y="0" width="8.8" height="2" stroke="none"/><path stroke="none" d="M4.5,3.2 C8.19,7.448 8.6,10.280000000000001 8.6,15.0 C8.6,19.72 8.19,22.552 4.5,26.8 C0.81,22.552 0.40000000000000036,19.72 0.40000000000000036,15.0 C0.40000000000000036,10.280000000000001 0.81,7.448 4.5,3.2 Z"/><rect x="0" y="27.6" width="8.8" height="2.2" stroke="none"/></g><g transform="translate(1242.8,389) scale(0.92)" fill="#d62a31" stroke="#d62a31"><path stroke="none" d="M4,0 C7.51,4.59 7.9,7.6499999999999995 7.9,12.75 C7.9,17.849999999999998 7.51,20.91 4,25.5 C0.4900000000000002,20.91 0.10000000000000009,17.849999999999998 0.10000000000000009,12.75 C0.10000000000000009,7.6499999999999995 0.4900000000000002,4.59 4,0 Z"/><rect x="11.2" y="0.5" width="1.9" height="24" stroke="none"/><rect x="10" y="0" width="4.3" height="1.5" stroke="none"/><rect x="10" y="23.7" width="4.3" height="1.5" stroke="none"/></g><g transform="translate(1242.8,440) scale(0.9)" fill="#d62a31" stroke="#d62a31"><path stroke="none" d="M4,0 C7.51,4.68 7.9,7.8 7.9,13.0 C7.9,18.2 7.51,21.32 4,26 C0.4900000000000002,21.32 0.10000000000000009,18.2 0.10000000000000009,13.0 C0.10000000000000009,7.8 0.4900000000000002,4.68 4,0 Z"/><rect x="11.2" y="9.8" width="1.9" height="8.7" stroke="none"/><rect x="9.8" y="9.8" width="4.6" height="1.5" stroke="none"/><rect x="9.8" y="17.1" width="4.6" height="1.5" stroke="none"/></g><g transform="translate(1234.4,491) scale(0.87)" fill="#d62a31" stroke="#d62a31"><g fill="none" stroke-width="2" stroke-linecap="round"><line x1="1" y1="3.4" x2="13.6" y2="1"/><line x1="13.6" y1="1" x2="5.2" y2="14.5"/><line x1="13.6" y1="1.5" x2="20.5" y2="16.5"/><circle cx="19.7" cy="17" r="7.6"/></g><rect x="32.5" y="12.5" width="2" height="3" stroke="none"/><rect x="32.5" y="19.5" width="2" height="3" stroke="none"/></g><g transform="translate(1236.4,543.3) scale(0.95)" fill="#d62a31" stroke="#d62a31"><rect x="0" y="9" width="2" height="3" stroke="none"/><rect x="0" y="16.5" width="2" height="3.5" stroke="none"/><g fill="none" stroke-width="2" stroke-linecap="round" stroke-linejoin="round"><circle cx="13.5" cy="15.5" r="7.6"/><path d="M13.5,15.5 L27.5,13.5 L22.5,2.5"/><line x1="21" y1="1" x2="25" y2="14"/></g></g><g transform="translate(1237.5,596.3) scale(1.0)" fill="#d62a31" stroke="#d62a31"><rect x="0" y="0" width="25.5" height="2" stroke="none"/><rect x="0" y="5.8" width="6" height="9.2" rx="1" stroke="none"/><path stroke="none" d="M5,7.3 L15,8.3 L15,12.5 L5,13.5 Z"/><circle cx="20.2" cy="10.3" r="4.3" fill="none" stroke-width="1.7"/></g><g transform="translate(1237.5,650.2) scale(1.0)" fill="#d62a31" stroke="#d62a31"><rect x="0" y="0" width="25.5" height="2.2" stroke="none"/><path fill="none" stroke-width="1.2" opacity="0.55" d="M1,5.5 Q6,6 9,8.5 Q13,10 17,8.5 Q20,6 25,5.5"/></g><g transform="translate(1234,694.2) scale(1.0)" fill="#d62a31" stroke="#d62a31"><rect x="8.5" y="0" width="20" height="2.2" stroke="none"/><circle cx="8.8" cy="13" r="7.3" fill="none" stroke-width="2.4"/><path stroke="none" d="M7.6,5 h2.4 v6.8 h6.8 v2.4 h-6.8 v6.8 h-2.4 v-6.8 h-6.8 v-2.4 h6.8 Z"/><rect x="10" y="11.2" width="18.5" height="3.6" rx="1.6" stroke="none"/></g><g transform="translate(1233.8,745.4) scale(1)" fill="#1a1a1a" stroke="#1a1a1a"><path stroke="none" d="M5.1,0 C7,0.4 8,2.5 8.2,4.5 L8.7,5.6 L8.3,6.6 L9.4,8.1 L9,9.1 L10.2,10.6 L10.2,21.2 L0,21.2 L0,10.6 L1.2,9.1 L0.8,8.1 L1.9,6.6 L1.5,5.6 L2,4.5 C2.2,2.5 3.2,0.4 5.1,0 Z"/></g><text x="1250.0" y="766.6" font-size="20.5" font-weight="bold" fill="#1a1a1a" stroke="#1a1a1a" stroke-width="0.3" text-anchor="start" textLength="16" lengthAdjust="spacingAndGlyphs">ST</text><g transform="translate(1233.8,797) scale(1)" fill="#1a1a1a" stroke="#1a1a1a"><path stroke="none" d="M5.1,0 C7,0.4 8,2.5 8.2,4.5 L8.7,5.6 L8.3,6.6 L9.4,8.1 L9,9.1 L10.2,10.6 L10.2,21.2 L0,21.2 L0,10.6 L1.2,9.1 L0.8,8.1 L1.9,6.6 L1.5,5.6 L2,4.5 C2.2,2.5 3.2,0.4 5.1,0 Z"/></g><text x="1250.0" y="818.2" font-size="20.5" font-weight="bold" fill="#1a1a1a" stroke="#1a1a1a" stroke-width="0.3" text-anchor="start" textLength="16" lengthAdjust="spacingAndGlyphs">DT</text><g transform="translate(850.4,691.2) scale(0.9)" fill="#d62a31" stroke="#d62a31"><rect x="4.2" y="0" width="15.3" height="2.8" stroke="none"/><path stroke="none" d="M6,4.6 L18.2,4.6 L22.9,25.4 L0.8,25.4 Z"/><rect x="0" y="27.4" width="23.9" height="3" stroke="none"/></g><g transform="translate(848.9,748) scale(1)" fill="#d62a31" stroke="#d62a31"><rect x="0" y="7.5" width="19.3" height="3" stroke="none"/><rect x="4.5" y="13.4" width="14.8" height="3" stroke="none"/><rect x="21.4" y="0" width="1.9" height="10" stroke="none"/></g><g transform="translate(848.9,798.6) scale(0.85)" fill="#d62a31" stroke="#d62a31"><path stroke="none" d="M1.3,0 L5,0 Q6,2.6 8,2.9 L20,2.9 Q22,2.6 23,0 L26.8,0 Q27.6,0.5 27.6,2 L27.6,8.3 Q27.6,9.8 26.8,10.3 L23,10.3 Q22,7.8 20,7.5 L8,7.5 Q6,7.8 5,10.3 L1.3,10.3 Q0.5,9.8 0.5,8.3 L0.5,2 Q0.5,0.5 1.3,0 Z"/><rect x="0" y="15" width="29" height="2.8" stroke="none"/><rect x="0" y="14" width="1.3" height="4.8" stroke="none"/><rect x="27.7" y="14" width="1.3" height="4.8" stroke="none"/></g><g transform="translate(850.4,846) scale(0.92)" fill="#d62a31" stroke="#d62a31"><rect x="0" y="0" width="14.7" height="5.6" rx="0.8" stroke="none"/><circle cx="4.1" cy="2.7" r="1.15" fill="#ececec" stroke="none"/><circle cx="10.5" cy="2.7" r="1.15" fill="#ececec" stroke="none"/><path stroke="none" d="M7.6,5 L12.9,5 L12.9,24 Q12.9,26.4 10.25,26.4 Q7.6,26.4 7.6,24 Z"/><ellipse cx="21.7" cy="20.3" rx="3" ry="4" fill="none" stroke-width="1.5"/><line x1="18.2" y1="25.2" x2="25.2" y2="15.3" stroke-width="1.2"/></g><g transform="translate(512.75,986.6) scale(1.0)" fill="#1f1f1f" stroke="#1f1f1f"><rect x="4.2" y="0" width="15.3" height="2.8" stroke="none"/><path stroke="none" d="M6,4.6 L18.2,4.6 L22.9,25.4 L0.8,25.4 Z"/><rect x="0" y="27.4" width="23.9" height="3" stroke="none"/></g><g transform="translate(607,997.8) scale(1.0)" fill="#1f1f1f" stroke="#1f1f1f"><circle cx="1.4" cy="10.9" r="1.5" stroke="none"/><rect x="5.5" y="9.4" width="17.8" height="3.2" stroke="none"/><rect x="6.4" y="15.9" width="16" height="2.9" stroke="none"/><rect x="5.8" y="15" width="1.2" height="4.6" stroke="none"/><rect x="21.8" y="15" width="1.2" height="4.6" stroke="none"/><rect x="25.6" y="0" width="1.9" height="12.4" stroke="none"/></g><g transform="translate(704.4,998.75) scale(1.0)" fill="#1f1f1f" stroke="#1f1f1f"><path stroke="none" d="M1.3,0 L5,0 Q6,2.6 8,2.9 L20,2.9 Q22,2.6 23,0 L26.8,0 Q27.6,0.5 27.6,2 L27.6,8.3 Q27.6,9.8 26.8,10.3 L23,10.3 Q22,7.8 20,7.5 L8,7.5 Q6,7.8 5,10.3 L1.3,10.3 Q0.5,9.8 0.5,8.3 L0.5,2 Q0.5,0.5 1.3,0 Z"/><rect x="0" y="15" width="29" height="2.8" stroke="none"/><rect x="0" y="14" width="1.3" height="4.8" stroke="none"/><rect x="27.7" y="14" width="1.3" height="4.8" stroke="none"/></g><g transform="translate(798.2,991.1) scale(1.0)" fill="#1f1f1f" stroke="#1f1f1f"><rect x="0" y="0" width="14.7" height="5.6" rx="0.8" stroke="none"/><circle cx="4.1" cy="2.7" r="1.15" fill="#ececec" stroke="none"/><circle cx="10.5" cy="2.7" r="1.15" fill="#ececec" stroke="none"/><path stroke="none" d="M7.6,5 L12.9,5 L12.9,24 Q12.9,26.4 10.25,26.4 Q7.6,26.4 7.6,24 Z"/><ellipse cx="21.7" cy="20.3" rx="3" ry="4" fill="none" stroke-width="1.5"/><line x1="18.2" y1="25.2" x2="25.2" y2="15.3" stroke-width="1.2"/></g><g transform="translate(914.2,987.3) scale(1.0)" fill="#1f1f1f" stroke="#1f1f1f"><rect x="0" y="0" width="8.8" height="2" stroke="none"/><path stroke="none" d="M4.5,3.2 C8.19,7.448 8.6,10.280000000000001 8.6,15.0 C8.6,19.72 8.19,22.552 4.5,26.8 C0.81,22.552 0.40000000000000036,19.72 0.40000000000000036,15.0 C0.40000000000000036,10.280000000000001 0.81,7.448 4.5,3.2 Z"/><rect x="0" y="27.6" width="8.8" height="2.2" stroke="none"/></g><g transform="translate(1008.7,992) scale(1.0)" fill="#1f1f1f" stroke="#1f1f1f"><path stroke="none" d="M4,0 C7.51,4.59 7.9,7.6499999999999995 7.9,12.75 C7.9,17.849999999999998 7.51,20.91 4,25.5 C0.4900000000000002,20.91 0.10000000000000009,17.849999999999998 0.10000000000000009,12.75 C0.10000000000000009,7.6499999999999995 0.4900000000000002,4.59 4,0 Z"/><rect x="11.2" y="0.5" width="1.9" height="24" stroke="none"/><rect x="10" y="0" width="4.3" height="1.5" stroke="none"/><rect x="10" y="23.7" width="4.3" height="1.5" stroke="none"/></g><g transform="translate(1073.3,991) scale(1.0)" fill="#1f1f1f" stroke="#1f1f1f"><path stroke="none" d="M4,0 C7.51,4.68 7.9,7.8 7.9,13.0 C7.9,18.2 7.51,21.32 4,26 C0.4900000000000002,21.32 0.10000000000000009,18.2 0.10000000000000009,13.0 C0.10000000000000009,7.8 0.4900000000000002,4.68 4,0 Z"/><rect x="11.2" y="9.8" width="1.9" height="8.7" stroke="none"/><rect x="9.8" y="9.8" width="4.6" height="1.5" stroke="none"/><rect x="9.8" y="17.1" width="4.6" height="1.5" stroke="none"/></g><g transform="translate(1128,991) scale(1.0)" fill="#1f1f1f" stroke="#1f1f1f"><g fill="none" stroke-width="2" stroke-linecap="round"><line x1="1" y1="3.4" x2="13.6" y2="1"/><line x1="13.6" y1="1" x2="5.2" y2="14.5"/><line x1="13.6" y1="1.5" x2="20.5" y2="16.5"/><circle cx="19.7" cy="17" r="7.6"/></g><rect x="32.5" y="12.5" width="2" height="3" stroke="none"/><rect x="32.5" y="19.5" width="2" height="3" stroke="none"/></g><g transform="translate(1195.6,993) scale(1.0)" fill="#1f1f1f" stroke="#1f1f1f"><rect x="0" y="9" width="2" height="3" stroke="none"/><rect x="0" y="16.5" width="2" height="3.5" stroke="none"/><g fill="none" stroke-width="2" stroke-linecap="round" stroke-linejoin="round"><circle cx="13.5" cy="15.5" r="7.6"/><path d="M13.5,15.5 L27.5,13.5 L22.5,2.5"/><line x1="21" y1="1" x2="25" y2="14"/></g></g><g transform="translate(1260,999.7) scale(1)" fill="#1f1f1f" stroke="#1f1f1f"><rect x="0.6" y="0" width="22" height="2.2" stroke="none"/><rect x="1.25" y="7.2" width="11.25" height="10.6" rx="1.5" stroke="none"/><path stroke="none" d="M12,9.4 L18,10.2 L20,9.6 L20,15.9 L18,15.3 L12,16 Z"/></g>
</svg>
</body></html>
